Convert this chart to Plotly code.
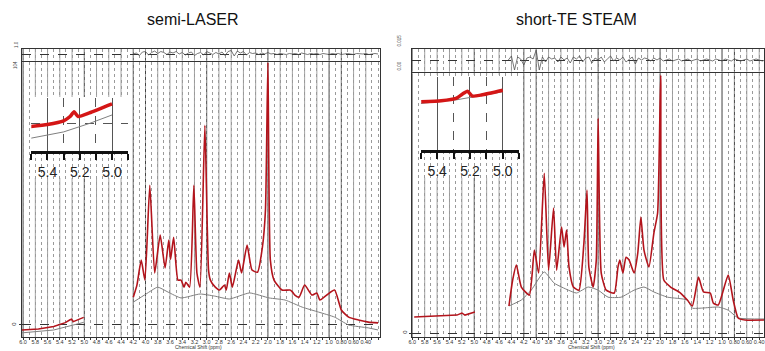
import plotly.graph_objects as go

W, H = 765, 351
FONT = "Liberation Sans, Arial, sans-serif"

# ---------------- shared axis labels ----------------
tick_ppm = [6.0, 5.8, 5.6, 5.4, 5.2, 5.0, 4.8, 4.6, 4.4, 4.2, 4.0, 3.8, 3.6, 3.4, 3.2,
            3.0, 2.8, 2.6, 2.4, 2.2, 2.0, 1.8, 1.6, 1.4, 1.2, 1.0, 0.8, 0.6, 0.4]
tick_text = ["6.0", "5.8", "5.6", "5.4", "5.2", "5.0", "4.8", "4.6", "4.4", "4.2", "4.0",
             "3.8", "3.6", "3.4", "3.2", "3.0", "2.8", "2.6", "2.4", "2.2", "2.0", "1.8",
             "1.6", "1.4", "1.2", "1.0", "0.80", "0.60", "0.40"]
dark_grid_ppm = [6.0, 5.0, 4.2, 4.0, 3.0, 2.0, 1.0, 0.8]
inset_tick_ppm = [5.4, 5.2, 5.0]
inset_tick_text = ["5.4", "5.2", "5.0"]
inset_minor_ppm = [5.5, 5.3, 5.1, 4.9]

# ---------------- semi-LASER (left) ----------------
sl_low_ppm = [6.02, 5.75, 5.50, 5.31, 5.24, 5.21, 5.18, 5.01]
sl_low_fit = [-1.9, -1.5, -0.6, 0.9, 1.9, 2.2, 1.3, 2.9]
sl_low_base_ppm = [6.02, 5.50, 5.01]
sl_low_base = [-3.0, -1.9, 1.0]

sl_ppm = [4.20, 4.14, 4.07, 4.01, 3.93, 3.85, 3.76, 3.68, 3.62, 3.59, 3.54, 3.47, 3.42,
          3.37, 3.34, 3.28, 3.21, 3.16, 3.11, 3.03, 2.97, 2.94, 2.86, 2.79, 2.71, 2.68,
          2.63, 2.58, 2.48, 2.43, 2.34, 2.26, 2.17, 2.09, 2.04, 2.00, 1.96, 1.90, 1.77,
          1.64, 1.60, 1.56, 1.49, 1.40, 1.28, 1.20, 1.15, 1.04, 0.91, 0.80, 0.68, 0.52,
          0.36, 0.20]
sl_fit = [10.6, 15.2, 24.7, 17.1, 53.2, 19.8, 34.2, 21.7, 32.3, 25.0, 33.4, 17.1, 17.1,
          14.4, 16.3, 14.4, 53.2, 19.8, 14.4, 76.0, 20.9, 17.1, 14.4, 13.3, 15.2, 13.3,
          19.8, 14.4, 24.7, 19.8, 30.4, 20.9, 20.1, 29.6, 43.7, 100.0, 24.7, 17.1, 13.3,
          13.3, 12.6, 11.4, 10.6, 15.2, 11.4, 12.2, 9.5, 11.4, 13.3, 5.7, 3.0, 1.9,
          1.1, 0.8]
sl_base_ppm = [4.20, 3.99, 3.80, 3.63, 3.42, 3.11, 2.87, 2.63, 2.30, 1.98, 1.72, 1.44,
               1.17, 0.91, 0.68, 0.36, 0.20]
sl_base = [8.7, 11.8, 14.4, 12.5, 10.3, 11.8, 11.0, 9.9, 12.2, 10.3, 9.5, 6.8,
           4.9, 3.0, 0.0, -1.1, -1.9]

sl_res_ppm = [4.20, 4.15, 4.10, 4.05, 4.00, 3.95, 3.90, 3.85, 3.80, 3.75, 3.70, 3.65,
              3.60, 3.55, 3.50, 3.45, 3.40, 3.35, 3.30, 3.25, 3.20, 3.15, 3.10, 3.05,
              3.00, 2.95, 2.90, 2.85, 2.80, 2.75, 2.70, 2.65, 2.60, 2.55, 2.50, 2.45,
              2.40, 2.35, 2.30, 2.25, 2.20, 2.15, 2.10, 2.05, 2.00, 1.95, 1.90, 1.85,
              1.80, 1.75, 1.70, 1.65, 1.60, 1.55, 1.50, 1.45, 1.40, 1.35, 1.30, 1.25,
              1.20, 1.15, 1.10, 1.05, 1.00, 0.95, 0.90, 0.85, 0.80, 0.75, 0.70, 0.65,
              0.60, 0.55, 0.50, 0.45, 0.40, 0.35, 0.30, 0.25, 0.20]
sl_res = [0.0, 0.2, -0.3, 0.4, 0.5, -0.2, 0.3, 0.6, 0.1, 0.5, 0.3, -0.1,
          0.4, 0.2, 0.5, 0.0, 0.3, -0.2, 0.2, 0.4, -0.3, 0.1, 0.3, -0.2,
          0.5, 0.2, -0.1, 0.3, 0.0, 0.4, -0.3, 0.5, 0.7, -0.4, 0.6, 0.2,
          0.5, -0.2, 0.3, 0.1, 0.2, -0.1, 0.2, 0.0, 0.3, 0.0, 0.1, -0.1,
          0.1, 0.0, -0.1, 0.1, 0.0, 0.1, -0.1, 0.2, 0.0, -0.1, 0.1, 0.0,
          0.1, -0.1, 0.1, 0.0, -0.1, 0.1, 0.0, 0.1, -0.1, 0.0, 0.1, 0.0,
          -0.1, 0.1, 0.0, 0.0, 0.1, -0.1, 0.0, 0.1, 0.0]

sl_inset_ppm = [5.505, 5.40, 5.30, 5.26, 5.235, 5.21, 5.14, 5.00]
sl_inset_fit = [4.6, 5.0, 5.7, 6.5, 7.4, 6.5, 7.2, 8.9]
sl_inset_base_ppm = [5.505, 5.30, 5.14, 5.00]
sl_inset_base = [2.4, 3.6, 5.2, 6.8]

# ---------------- short-TE STEAM (right) ----------------
st_low_ppm = [5.97, 5.60, 5.28, 5.20, 5.15, 4.99]
st_low_fit = [6.2, 6.5, 6.9, 7.7, 6.9, 8.1]

st_ppm = [4.44, 4.38, 4.32, 4.24, 4.11, 4.03, 3.96, 3.87, 3.80, 3.72, 3.67, 3.59, 3.55,
          3.51, 3.47, 3.40, 3.31, 3.23, 3.18, 3.15, 3.08, 3.03, 3.00, 2.95, 2.87, 2.74,
          2.68, 2.65, 2.60, 2.55, 2.50, 2.42, 2.36, 2.31, 2.26, 2.18, 2.10, 2.04, 1.99,
          1.94, 1.83, 1.67, 1.56, 1.48, 1.38, 1.30, 1.19, 1.14, 1.06, 0.90, 0.82, 0.74,
          0.63, 0.31]
st_fit = [10.4, 20.4, 26.2, 17.7, 14.6, 31.9, 23.1, 61.5, 24.2, 48.1, 24.2, 40.8, 33.1,
          39.6, 25.4, 17.7, 16.5, 34.6, 55.0, 25.4, 17.7, 28.1, 82.7, 23.1, 16.5, 15.4,
          25.4, 28.1, 23.1, 29.2, 28.1, 23.1, 30.8, 44.6, 31.9, 25.4, 38.5, 46.2, 99.2,
          20.4, 17.7, 15.4, 12.7, 10.4, 21.5, 15.8, 15.4, 11.5, 10.8, 22.3, 12.7, 5.8,
          5.0, 5.0]
st_base_ppm = [4.44, 4.24, 4.08, 3.87, 3.71, 3.48, 3.35, 3.16, 3.00, 2.84, 2.63, 2.42,
               2.26, 2.10, 1.88, 1.56, 1.48, 1.32, 1.06, 0.90, 0.74, 0.31]
st_base = [10.4, 12.7, 16.5, 23.5, 19.2, 16.5, 15.4, 17.7, 16.5, 13.8, 13.8, 16.5,
           17.7, 15.8, 13.8, 12.7, 9.6, 9.6, 10.0, 8.8, 5.8, 5.4]

st_res_ppm = [4.45, 4.40, 4.35, 4.30, 4.25, 4.20, 4.15, 4.10, 4.05, 4.00, 3.95, 3.90,
              3.85, 3.80, 3.75, 3.70, 3.65, 3.60, 3.55, 3.50, 3.45, 3.40, 3.35, 3.30,
              3.25, 3.20, 3.15, 3.10, 3.05, 3.00, 2.95, 2.90, 2.85, 2.80, 2.75, 2.70,
              2.65, 2.60, 2.55, 2.50, 2.45, 2.40, 2.35, 2.30, 2.25, 2.20, 2.15, 2.10,
              2.05, 2.00, 1.95, 1.90, 1.85, 1.80, 1.75, 1.70, 1.65, 1.60, 1.55, 1.50,
              1.45, 1.40, 1.35, 1.30, 1.25, 1.20, 1.15, 1.10, 1.05, 1.00, 0.95, 0.90,
              0.85, 0.80, 0.75, 0.70, 0.65, 0.60, 0.55, 0.50, 0.45, 0.40, 0.35, 0.30]
st_res = [0.0, 0.4, -1.0, 0.3, 0.1, -0.5, 0.2, 0.3, 0.1, 1.0, -1.0, 0.3,
          -0.2, 0.3, 0.1, 0.2, -0.2, 0.3, 0.0, 0.2, -0.3, 0.3, 0.1, 0.4,
          -0.2, 0.2, 0.3, -0.3, 0.2, 0.0, 0.3, -0.2, 0.1, 0.4, -0.1, 0.2,
          0.0, 0.3, -0.2, 0.1, 0.3, -0.4, 0.2, 0.0, 0.2, 0.1, -0.1, 0.2,
          0.0, 0.2, -0.1, 0.0, 0.1, -0.1, 0.0, 0.1, -0.1, 0.0, 0.1, -0.1,
          0.0, 0.1, -0.1, 0.0, 0.1, 0.0, -0.1, 0.1, 0.0, -0.1, 0.1, 0.0,
          -0.1, 0.1, 0.0, -0.1, 0.0, 0.1, -0.1, 0.0, 0.1, 0.0, -0.1, 0.0]

st_inset_ppm = [5.497, 5.375, 5.285, 5.245, 5.215, 5.185, 5.13, 5.00]
st_inset_fit = [9.1, 9.3, 9.75, 10.6, 11.1, 10.2, 10.4, 11.3]
st_inset_base_ppm = [5.50, 5.28, 5.00]
st_inset_base = [8.8, 9.5, 11.0]

RED = "#b3141c"
INSET_RED = "#d41616"
GRAY = "#7f7f7f"


def xd(a, b):
    return [a / W, min(b / W, 1.0)]


def yd(top, bottom):
    return [1 - bottom / H, 1 - top / H]


fig = go.Figure()


def line(x, y, xa, ya, color, width, shape="linear"):
    fig.add_trace(go.Scatter(x=x, y=y, xaxis=xa, yaxis=ya, mode="lines",
                             line=dict(color=color, width=width, shape=shape,
                                       smoothing=0.5 if shape == "spline" else None),
                             hoverinfo="skip", showlegend=False))


# left panel traces
line(sl_low_base_ppm, sl_low_base, "x", "y", GRAY, 1)
line(sl_low_ppm, sl_low_fit, "x", "y", RED, 1.5)
line(sl_base_ppm, sl_base, "x", "y", GRAY, 1, "spline")
line(sl_ppm, sl_fit, "x", "y", RED, 1.6, "spline")
line(sl_res_ppm, sl_res, "x2", "y2", "#555555", 0.8)
line(sl_inset_base_ppm, sl_inset_base, "x3", "y3", GRAY, 1)
line(sl_inset_ppm, sl_inset_fit, "x3", "y3", INSET_RED, 3.5, "spline")

# right panel traces
line(st_low_ppm, st_low_fit, "x4", "y4", RED, 1.5)
line(st_base_ppm, st_base, "x4", "y4", GRAY, 1, "spline")
line(st_ppm, st_fit, "x4", "y4", RED, 1.6, "spline")
line(st_res_ppm, st_res, "x5", "y5", "#555555", 0.8)
line(st_inset_base_ppm, st_inset_base, "x6", "y6", GRAY, 1)
line(st_inset_ppm, st_inset_fit, "x6", "y6", INSET_RED, 3.5, "spline")


def main_x(dom, rng, labels=True, anchor="y"):
    return dict(domain=dom, range=rng, anchor=anchor, showline=True, mirror=True,
                linecolor="#333", linewidth=1, zeroline=False,
                tickmode="array", tickvals=tick_ppm, ticktext=tick_text,
                tickangle=0, showgrid=False, ticklabelstandoff=-3,
                minor=dict(tickmode="linear", tick0=0, dtick=0.1, showgrid=True,
                           gridcolor="#9a9a9a", griddash="dot",
                           ticks="outside" if labels else "", ticklen=2,
                           tickcolor="#333"),
                showticklabels=labels, ticks="outside" if labels else "", ticklen=2,
                tickcolor="#333", tickfont=dict(size=5.5, color="#333", family=FONT))


def inset_x(dom, anchor):
    return dict(domain=dom, range=[5.5, 4.9], anchor=anchor, showline=True,
                linecolor="#111", linewidth=2.5, zeroline=False,
                tickmode="array", tickvals=inset_tick_ppm, ticktext=inset_tick_text,
                tickangle=0, ticks="outside", ticklen=6, tickwidth=2, tickcolor="#111",
                tickfont=dict(size=14, color="#222", family=FONT),
                showgrid=True, gridcolor="#555", gridwidth=1,
                minor=dict(tickmode="array", tickvals=inset_minor_ppm, showgrid=True,
                           gridcolor="#555", griddash="dash", ticks="outside",
                           ticklen=6, tickwidth=2, tickcolor="#111"))


L_X = (18, 378)
R_X = (411, 771)
L_RNG = [6.02, 0.176]
R_RNG = [6.0, 6.0 - (765 - 411) / 12.47 * 0.2]


def main_y(dom, rng, anchor):
    return dict(domain=dom, range=rng, anchor=anchor, showline=True, mirror=True,
                linecolor="#333", zeroline=False, tickmode="array", tickvals=[0],
                ticktext=["0"], tickangle=-90, ticks="outside", ticklen=2,
                tickcolor="#333", tickfont=dict(size=6, color="#333"), showgrid=True,
                gridcolor="#333", griddash="dash", gridwidth=1)


def strip_y(dom, rng, anchor):
    return dict(domain=dom, range=rng, anchor=anchor, showline=True, mirror=True,
                linecolor="#333", zeroline=False, tickmode="array", tickvals=[0],
                showticklabels=False, showgrid=True, gridcolor="#333", griddash="dash")


fig.update_layout(
    width=W, height=H, margin=dict(l=0, r=0, t=0, b=0),
    paper_bgcolor="white", plot_bgcolor="white", showlegend=False,
    font=dict(family=FONT, color="#222"),
    xaxis=main_x(xd(*L_X), L_RNG, True, "y"),
    yaxis=main_y(yd(62.3, 337), [-4.57, 100], "x"),
    xaxis2=main_x(xd(*L_X), L_RNG, False, "y2"),
    yaxis2=strip_y(yd(49, 60.7), [-1.34, 1.0], "x2"),
    xaxis3=inset_x(xd(27.5, 125), "y3"),
    yaxis3=dict(domain=yd(98, 151), range=[0, 10], anchor="x3", showline=False,
                zeroline=False, tickmode="array", tickvals=[5.1], showticklabels=False,
                showgrid=True, gridcolor="#555", griddash="dash"),
    xaxis4=main_x(xd(*R_X), R_RNG, True, "y4"),
    yaxis4=main_y(yd(73.3, 337), [-1.54, 100], "x4"),
    xaxis5=main_x(xd(*R_X), R_RNG, False, "y5"),
    yaxis5=strip_y(yd(49, 71.7), [-1.17, 1.1], "x5"),
    xaxis6=inset_x(xd(419.5, 518.5), "y6"),
    yaxis6=dict(domain=yd(77, 150), range=[0, 13.8], anchor="x6", showline=False,
                zeroline=False, showticklabels=False, showgrid=False),
)

shapes = []
# solid vertical grid lines at the labelled ppm values (darker at selected ones)
for xa, ya_list in (("x", ("y", "y2")), ("x4", ("y4", "y5"))):
    for p in tick_ppm:
        dark = p in dark_grid_ppm
        for ya in ya_list:
            shapes.append(dict(type="line", xref=xa, yref=f"{ya} domain", x0=p, x1=p,
                               y0=0, y1=1, layer="below",
                               line=dict(color="#444" if dark else "#a3a3a3",
                                         width=1)))
# inset white backgrounds
shapes.append(dict(type="rect", xref="x3 domain", yref="y3 domain", x0=-0.005, x1=1.03,
                   y0=-0.51, y1=1.02, layer="below", fillcolor="white",
                   line=dict(width=0)))
shapes.append(dict(type="rect", xref="x6 domain", yref="y6 domain", x0=0.01, x1=1.025,
                   y0=-0.38, y1=1.03, layer="below", fillcolor="white",
                   line=dict(width=0)))
fig.update_layout(shapes=shapes)

ann = []


def text(x, y, s, size, angle=0, color="#111", yanchor="middle"):
    ann.append(dict(x=x / W, y=1 - y / H, xref="paper", yref="paper", text=s,
                    showarrow=False, textangle=angle, xanchor="center", yanchor=yanchor,
                    borderpad=0, font=dict(size=size, color=color, family=FONT)))


text(190, 20, "semi-LASER", 16)
text(576, 20, "short-TE STEAM", 16)
text(196, 350.5, "Chemical Shift (ppm)", 5, 0, "#333", "bottom")
text(591, 350.5, "Chemical Shift (ppm)", 5, 0, "#333", "bottom")
text(12, 44, "1.0", 4.5, -90, "#444")
text(12, 65, "104", 4.5, -90, "#444")
text(398, 40, "0.015", 4.5, -90, "#444")
text(398, 66, "0.00", 4.5, -90, "#444")
fig.update_layout(annotations=ann)

fig.write_html("out.html", config={"displayModeBar": False},
               post_script="document.body.style.margin='0px';")
